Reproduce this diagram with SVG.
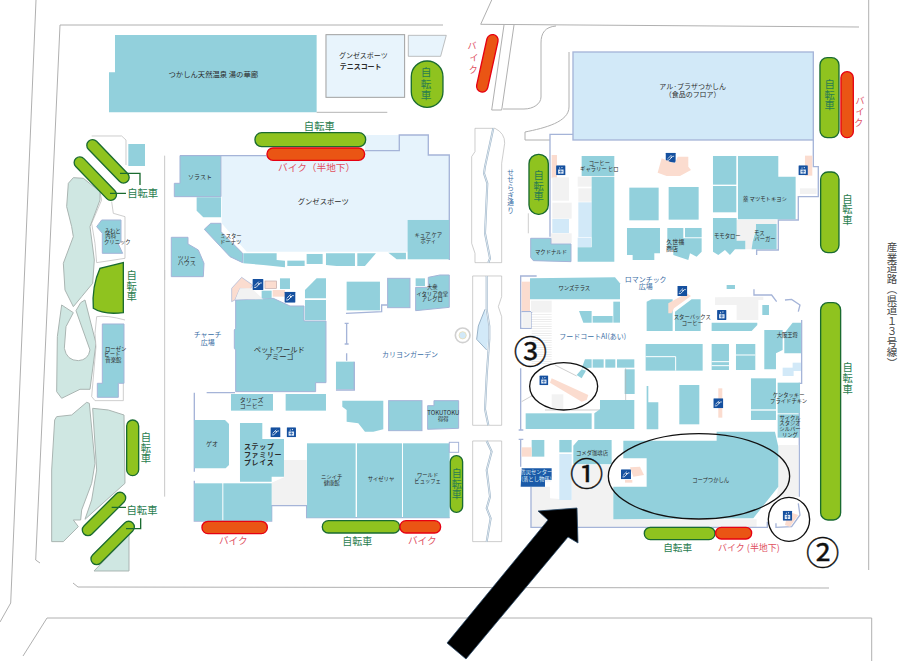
<svg xmlns="http://www.w3.org/2000/svg" xmlns:xlink="http://www.w3.org/1999/xlink" width="910" height="661" viewBox="0 0 910 661">
<defs>
<style>
text{font-family:"Noto Sans CJK JP","Liberation Sans",sans-serif;fill:#2b2b2b;text-anchor:middle}
.t{fill:#92d0dc;stroke:none}
.b{fill:#92d0dc;stroke:#a5b4d8;stroke-width:3}
.lb{fill:#d2e9f8;stroke:none}
.g{fill:#f2f2f2;stroke:none}
.p{fill:#fbdccf;stroke:none}
.o{fill:none;stroke:#a5b4d8;stroke-width:4}
.r{fill:none;stroke:#b5b5b5;stroke-width:3}
.w{fill:#fff;stroke:#b5b5b5;stroke-width:3}
.gd{fill:#cfe7e2;stroke:#aab5b2;stroke-width:3}
.pg{fill:#8fc31f;stroke:#1a6b30;stroke-width:4}
.pr{fill:#ea5514;stroke:#e60012;stroke-width:4}
.gt{fill:#2a7d4f}
.rt{fill:#e0505f}
.bt{fill:#3a6ea5}
.k{fill:none;stroke:#111;stroke-width:4}
.cn{fill:none;stroke:#1a6b30;stroke-width:4}
.s16{font-size:16px}.s18{font-size:18px}.s21{font-size:21px}.s30{font-size:31px}
.num{font-size:100px;fill:#111;stroke:#111;stroke-width:1.200}
</style>
<symbol id="esc" viewBox="0 0 33 33"><rect width="33" height="33" rx="2" fill="#15509f"/><path d="M5,25 L11,25 L23,12 L28,12 M7,20 L19,8" fill="none" stroke="#fff" stroke-width="2.5"/><circle cx="19" cy="15" r="2.5" fill="#fff"/></symbol>
<symbol id="elv" viewBox="0 0 29 31"><rect width="29" height="31" rx="2" fill="#15509f"/><rect x="6" y="13" width="17" height="13" fill="#dfeaf6"/><path d="M14.500,13 V26 M9,19 H20" stroke="#15509f" stroke-width="2"/><path d="M9,10 L11,5 L13,10 Z M16,5 L20,5 L18,10 Z" fill="#fff"/></symbol>
<pattern id="st" width="10" height="7" patternUnits="userSpaceOnUse"><rect width="10" height="7" fill="#fff"/><rect width="10" height="2" fill="#e3e3e3"/></pattern>
</defs>
<rect width="910" height="661" fill="#fff"/>

<g id="roads" fill="none" stroke="#b0b0b0" stroke-width="1">
<path d="M36,0 L10.700,603 L0,622"/>
<path d="M443,25 L60,25 L35.700,560 L40,563"/>
<path d="M73,583 L78,587 L829,588"/>
<path d="M23,656 L47,618 L871.700,618 L871.700,661"/>
<path d="M868.700,0 V570"/>
<path d="M491.700,0 L480.700,24.300 L859,27"/>
<path d="M504,25 L491.700,110 L501.700,110 L514,25"/>
<path d="M556,26 C545,27 541,33 541,43 L541,97 C541,104 533,109 524,109 L503,109"/>
<path d="M569,52 L569,107 C569,122 545,128 525,132 V140 H550"/>
</g>

<g id="left-garden" transform="translate(40 120) scale(.3333)">
<path class="w" style="stroke-width:2" d="M155,48 H245 L258,60 V135 M180,215 L185,240 L155,310 L165,370 L170,428 L255,415 V290 L220,280 L215,245"/>
<path class="gd" d="M100,173 L85,190 L80,260 L95,320 L100,350 L70,430 L75,510 L100,560 L125,530 L158,490 L163,420 L150,320 L180,240 L180,215 L130,175 Z"/>
<path class="gd" d="M65,555 L100,578 L78,620 L73,685 Q80,722 115,722 Q145,720 150,690 L108,572 L122,548 L135,540 L168,670 L150,808 L120,808 L65,835 L50,815 L52,650 Z"/>
<path class="w" style="stroke-width:2" d="M255,600 Q200,585 170,590 L165,640 L168,680 L155,830 L165,842 L250,842 V790"/>
<rect class="t" x="265" y="72" width="50" height="66"/>
<polygon class="b" points="185,300 243,300 243,365 235,372 248,400 187,400 187,340 170,320"/>
<polygon class="b" points="187,612 252,612 252,790 235,790 235,832 172,832 172,790 187,790"/>
<path class="pg" d="M250,428 L250,578 Q190,585 160,565 Q155,500 180,445 Z"/>
<rect class="pg" x="-84" y="-17" width="168" height="34" rx="17" transform="translate(204 124) rotate(46)"/>
<rect class="pg" x="-84" y="-17" width="168" height="34" rx="17" transform="translate(166 176) rotate(46)"/>
<path class="cn" d="M240,160 H300 V195 M210,220 H258"/>
<text class="gt s30" x="308" y="230">自転車</text>
<text class="gt s30" x="275"><tspan x="275" y="478">自</tspan><tspan x="275" y="510">転</tspan><tspan x="275" y="540">車</tspan></text>
<g class="s16"><text x="218" y="338">みわと</text><text x="212" y="354">内科</text><text x="232" y="372">クリニック</text>
<text x="227" y="692">ローゼン</text><text x="217" y="708">ビート</text><text x="220" y="727">音楽館</text></g>
</g>

<g id="lower-left" transform="translate(50 270) scale(.3333)">
<path class="gd" d="M14,450 L20,440 L65,435 L110,397 L118,400 L135,580 L125,640 L95,720 L92,750 L70,750 L85,770 L40,815 L5,815 L5,600 Z"/>
<path class="gd" d="M128,415 L175,420 L222,435 L225,640 L105,748 L125,690 L140,600 Z"/>
<path class="gd" d="M237,795 V903 H132 Z"/>
<line x1="344" y1="0" x2="344" y2="680" stroke="#c8c8c8" stroke-width="3"/>
<rect class="pg" x="230" y="450" width="36" height="167" rx="18"/>
<rect class="pg" x="-85" y="-17" width="170" height="34" rx="17" transform="translate(162 732) rotate(-45)"/>
<rect class="pg" x="-85" y="-17" width="170" height="34" rx="17" transform="translate(188 819) rotate(-45)"/>
<path class="cn" d="M185,712 H228 M228,776 H272 V745"/>
<text class="gt s30" x="276" y="732">自転車</text>
<text class="gt s30"><tspan x="288" y="513">自</tspan><tspan x="288" y="546">転</tspan><tspan x="288" y="577">車</tspan></text>
</g>

<g id="gunze" transform="translate(50 20) scale(.3333)">
<polygon class="t" points="195,45 800,45 800,277 177,277 177,157 195,157"/>
<path class="r" d="M800,277 H1012"/>
<rect x="828" y="44" width="236" height="188" fill="#e8f4fc" stroke="#a0a0a0" stroke-width="3"/>
<polygon points="1075,46 1189,46 1172,109 1075,109" fill="#e8f4fc" stroke="#a0a0a0" stroke-width="2"/>
<rect class="pg" x="1084" y="123" width="95" height="139" rx="47"/>
<text class="gt" style="font-size:32px"><tspan x="1128" y="168">自</tspan><tspan x="1128" y="203">転</tspan><tspan x="1128" y="237">車</tspan></text>
<text style="font-size:22px" x="490" y="172">つかしん天然温泉 湯の華廊</text>
<text class="s21" x="940" y="113">グンゼスポーツ</text>
<text class="s21" x="932" y="148" font-weight="bold">テニスコート</text>
<polygon points="515,407 945,407 945,345 1135,345 1135,405 1198,405 1198,695 590,695 515,610" fill="#e6f3fc"/>
<path class="o" d="M945,392 H1048 V345 H1135 V405 H1198 V720 M390,407 H650"/>
<polygon class="b" points="390,407 513,407 513,530 373,530 373,490 390,490"/>
<polygon class="t" points="440,532 513,532 513,592 460,592 440,572"/>
<polygon class="b" points="463,628 482,610 513,610 513,635 578,700 578,728 540,710"/>
<polygon class="t" points="580,700 680,700 680,720 705,722 705,742 640,735 580,730"/>
<rect class="t" x="712" y="722" width="52" height="16"/>
<rect class="t" x="770" y="702" width="48" height="30"/>
<polygon class="t" points="828,700 915,700 915,738 860,738 828,735"/>
<polygon class="t" points="922,700 978,700 945,738 922,738"/>
<polygon class="t" points="1015,698 1068,698 1068,718 1040,718"/>
<rect class="t" x="1073" y="600" width="125" height="118"/>
<polygon class="b" points="364,652 414,652 414,672 445,690 462,730 460,770 364,770"/>
<line x1="344" y1="407" x2="344" y2="780" stroke="#c8c8c8" stroke-width="3"/>
<rect class="pg" x="615" y="338" width="332" height="42" rx="20"/>
<rect class="pr" x="651" y="384" width="293" height="37" rx="18"/>
<text class="gt" style="font-size:31px" x="808" y="330">自転車</text>
<text class="rt" style="font-size:29px" x="800" y="453">バイク（半地下）</text>
<text class="s18" x="450" y="478">ソラスト</text>
<text style="font-size:22px" x="820" y="552">グンゼスポーツ</text>
<g class="s16"><text x="543" y="654">ミスター</text><text x="542" y="672">ドーナツ</text>
<text x="1135" y="650">キュア ケア</text><text x="1135" y="669">ボディ</text></g>
<text class="s18"><tspan x="410" y="719">ツリー</tspan><tspan x="410" y="736">ハウス</tspan></text>
</g>

<g id="center-west" transform="translate(50 270) scale(.3333)">
<polygon class="b" points="557,90 670,85 720,108 762,108 762,153 828,153 828,338 797,338 797,365 557,365 557,240 553,235 553,180 557,175"/>
<rect class="t" x="765" y="90" width="63" height="60"/>
<polygon class="t" points="765,60 800,25 828,25 828,85 765,85"/>
<polygon points="545,95 545,55 575,22 608,45 600,60 570,55 555,90" fill="#fbdccf" stroke="#a5b4d8" stroke-width="2"/>
<polygon class="g" points="570,55 605,55 640,88 557,88"/>
<rect class="t" x="635" y="62" width="30" height="23"/>
<rect x="645" y="33" width="35" height="22" fill="#fbdccf" stroke="#c0a8a8" stroke-width="2"/>
<rect class="p" x="668" y="60" width="37" height="20"/>
<rect class="t" x="690" y="25" width="30" height="32"/>
<use xlink:href="#esc" href="#esc" x="607" y="27" width="34" height="33"/>
<use xlink:href="#esc" href="#esc" x="703" y="65" width="34" height="33"/>
<path class="o" d="M470,368 H555 M433,368 V605 M433,632 V753 H665 V707 H770 V743 H1199"/>
<rect class="t" x="543" y="372" width="126" height="50"/>
<rect class="t" x="707" y="372" width="121" height="50"/>
<polygon class="t" points="433,450 525,450 537,462 537,585 527,595 433,595"/>
<polygon class="t" points="570,459 637,459 637,507 702,507 702,620 665,620 665,635 570,635"/>
<use xlink:href="#esc" href="#esc" x="661" y="472" width="31" height="30"/>
<use xlink:href="#elv" href="#elv" x="710" y="472" width="28" height="30"/>
<polygon class="g" points="702,570 770,570 770,705 665,705 665,638 702,622"/>
<rect class="t" x="433" y="640" width="84" height="113"/>
<rect class="t" x="520" y="640" width="145" height="113"/>
<rect class="t" x="771" y="520" width="146" height="223"/>
<rect class="t" x="921" y="520" width="135" height="223"/>
<rect class="t" x="1059" y="520" width="140" height="223"/>
<rect x="1198" y="517" width="28" height="30" fill="#fff" stroke="#a5b4d8" stroke-width="3"/>
<rect class="pg" x="1201" y="557" width="37" height="170" rx="18"/>
<rect class="pr" x="456" y="754" width="196" height="37" rx="18"/>
<rect class="pg" x="817" y="752" width="232" height="37" rx="18"/>
<rect class="pr" x="1050" y="752" width="122" height="37" rx="18"/>
<text class="gt" style="font-size:30px"><tspan x="1220" y="622">自</tspan><tspan x="1220" y="653">転</tspan><tspan x="1220" y="685">車</tspan></text>
<text class="rt" style="font-size:29px" x="550" y="822">バイク</text>
<text class="gt" style="font-size:30px" x="922" y="826">自転車</text>
<text class="rt" style="font-size:29px" x="1117" y="822">バイク</text>
<text class="bt s21"><tspan x="473" y="201">チャーチ</tspan><tspan x="473" y="224">広場</tspan></text>
<text style="font-size:22px"><tspan x="688" y="246">ペットワールド</tspan><tspan x="688" y="268">アミーゴ</tspan></text>
<text class="s18"><tspan x="605" y="396">タリーズ</tspan><tspan x="605" y="413">コーヒー</tspan></text>
<text class="s18" x="486" y="529">ゲオ</text>
<text class="s21" font-weight="bold" style="text-anchor:start"><tspan x="582" y="538" letter-spacing="2">ステップ</tspan><tspan x="582" y="562" letter-spacing="2">ファミリー</tspan><tspan x="582" y="585" letter-spacing="2">プレイス</tspan></text>
<g class="s16"><text x="845" y="627">ニシイチ</text><text x="845" y="646">健康館</text><text x="993" y="634">サイゼリヤ</text><text x="1133" y="622">ワールド</text><text x="1133" y="640">ビュッフェ</text></g>
<rect class="t" x="890" y="35" width="100" height="86"/>
<path class="o" d="M888,130 L995,125 V105 H1012 M890,160 V222 M884,160 H896 M884,222 H896 M890,250 V272"/>
<rect class="b" x="1013" y="25" width="67" height="88"/>
<rect class="t" x="1097" y="25" width="28" height="23"/>
<polygon class="b" points="1097,52 1135,52 1135,22 1170,15 1198,15 1198,112 1097,122"/>
<rect class="t" x="858" y="275" width="55" height="83"/>
<path class="o" d="M913,275 V360 H858"/>
<polygon class="t" points="877,392 1000,392 1000,478 970,485 945,485 925,460 890,455 890,420 877,410"/>
<rect class="b" x="1016" y="392" width="100" height="90"/>
<polygon class="b" points="1133,407 1152,407 1152,392 1226,392 1226,475 1133,478"/>
<g class="s16"><text x="1147" y="58">大衆</text><text x="1147" y="77">イタリア食堂</text><text x="1147" y="94">アレグロ</text></g>
<text class="bt s21" x="1080" y="260">カリヨンガーデン</text>
<text class="s18" x="1180" y="434">TOKUTOKU</text>
<text class="s16" x="1180" y="452">得得</text>
</g>

<g id="seseragi" transform="translate(470 20) scale(.3333)">
<circle cx="-22" cy="946" r="22" fill="#fff" stroke="#d0d0d0" stroke-width="5"/>
<circle cx="-22" cy="946" r="11" fill="#d2e9f8" stroke="#e8d9a8" stroke-width="2"/>
<path class="r" style="stroke-width:2" d="M15,325 H75 Q105,340 104,370 L95,430 V728 H15 V700 L5,670 V410 L15,395 Z"/>
<path fill="none" stroke="#9ab3c8" stroke-width="6" d="M70,325 L45,440 L42,460 L52,490 L45,640 L60,715 L55,728"/>
<path fill="none" stroke="#fff" stroke-width="2" d="M70,325 L45,440 L42,460 L52,490 L45,640 L60,715 L55,728"/>
<path class="r" style="stroke-width:2" d="M8,768 H95 V830 L85,860 L95,890 V1216 H8 Z"/>
<path class="lb" d="M45,868 L25,918 L20,958 L50,990 L55,958 L55,918 Z"/>
<path fill="none" stroke="#9ab3c8" stroke-width="6" d="M50,768 V868 L58,918 V958 L55,998 L50,1068 L45,1168 L55,1216"/>
<path fill="none" stroke="#fff" stroke-width="2" d="M50,768 V868 L58,918 V958 L55,998 L50,1068 L45,1168 L55,1216"/>
<path fill="none" stroke="#9ab3c8" stroke-width="3" d="M45,868 L25,918 L20,958 L50,990"/>
<path class="r" style="stroke-width:2" d="M8,1263 H95 V1565 H8 Z"/>
<path fill="none" stroke="#9ab3c8" stroke-width="6" d="M50,1263 L65,1295 L50,1350 L60,1430 L50,1465 L62,1495 L50,1565"/>
<path fill="none" stroke="#fff" stroke-width="2" d="M50,1263 L65,1295 L50,1350 L60,1430 L50,1465 L62,1495 L50,1565"/>
<rect class="pg" x="177" y="403" width="58" height="180" rx="28"/>
<text class="gt" style="font-size:31px"><tspan x="206" y="476">自</tspan><tspan x="206" y="509">転</tspan><tspan x="206" y="541">車</tspan></text>
<text class="bt" style="font-size:20px"><tspan x="122" y="464">せ</tspan><tspan x="122" y="487">せ</tspan><tspan x="122" y="510">ら</tspan><tspan x="122" y="533">ぎ</tspan><tspan x="122" y="556">通</tspan><tspan x="122" y="580">り</tspan></text>
<rect class="pr" x="-17" y="-88" width="34" height="176" rx="17" transform="translate(52 130) rotate(12.500)"/>
<text class="rt" style="font-size:27px"><tspan x="6" y="88">バ</tspan><tspan x="12" y="122">イ</tspan><tspan x="10" y="158">ク</tspan></text>
</g>

<g id="plaza" transform="translate(470 20) scale(.3333)">
<path class="r" style="stroke-width:2" d="M175,580 V640"/>
<rect x="309" y="96" width="721" height="264" fill="#d2e9f8" stroke="#a5b4d8" stroke-width="4"/>
<text class="s21"><tspan x="668" y="207">アル·プラザつかしん</tspan><tspan x="668" y="230">（食品のフロア）</tspan></text>
<rect class="pg" x="1050" y="113" width="57" height="240" rx="22"/>
<rect class="pr" x="1113" y="155" width="37" height="198" rx="18"/>
<text class="gt s30"><tspan x="1079" y="203">自</tspan><tspan x="1079" y="236">転</tspan><tspan x="1079" y="268">車</tspan></text>
<text class="rt" style="font-size:27px"><tspan x="1170" y="253">バ</tspan><tspan x="1170" y="285">イ</tspan><tspan x="1166" y="318">ク</tspan></text>
<rect class="pg" x="1052" y="456" width="55" height="242" rx="22"/>
<text class="gt s30"><tspan x="1132" y="548">自</tspan><tspan x="1132" y="580">転</tspan><tspan x="1132" y="612">車</tspan></text>
<path class="o" d="M309,343 H240 V650 M1030,360 V440 H1045 V530 H985 V600 H925 V690 H860 V705"/>
<rect class="p" x="245" y="405" width="16" height="70"/>
<rect class="p" x="1005" y="407" width="22" height="60"/>
<use xlink:href="#elv" href="#elv" x="258" y="436" width="29" height="30"/>
<use xlink:href="#elv" href="#elv" x="985" y="436" width="29" height="30"/>
<rect class="g" x="247" y="472" width="50" height="70"/>
<rect class="g" x="247" y="548" width="58" height="48"/>
<rect class="lb" x="247" y="597" width="50" height="42"/>
<rect class="g" x="243" y="640" width="62" height="30"/>
<rect class="g" x="323" y="470" width="42" height="30"/>
<rect class="g" x="325" y="505" width="40" height="40"/>
<rect class="lb" x="325" y="547" width="40" height="104"/>
<rect class="lb" x="323" y="653" width="40" height="28"/>
<polygon class="t" points="365,470 433,470 433,725 323,725 323,682 365,682"/>
<rect class="t" x="335" y="408" width="98" height="60"/>
<polygon class="b" points="182,655 243,655 243,672 303,672 303,725 190,722 182,712"/>
<use xlink:href="#esc" href="#esc" x="586" y="398" width="32" height="30"/>
<polygon class="p" points="563,458 575,415 600,425 615,430 623,410 655,410 655,440 663,450 630,468 590,468"/>
<rect class="t" x="478" y="503" width="88" height="98"/>
<rect class="t" x="596" y="501" width="90" height="98"/>
<polygon class="t" points="471,624 570,624 570,700 553,700 553,720 488,720 488,705 471,705"/>
<polygon class="t" points="592,624 640,624 640,655 695,655 695,695 680,710 660,700 655,720 610,705 610,690 592,690"/>
<rect class="t" x="645" y="624" width="50" height="28"/>
<rect class="t" x="729" y="408" width="70" height="86"/>
<rect class="t" x="729" y="498" width="70" height="79"/>
<polygon class="t" points="804,408 925,408 925,470 977,470 977,598 804,598"/>
<polygon class="g" points="800,600 920,600 920,612 858,612 858,630 848,660 848,688 826,688 826,662 800,662"/>
<polygon class="t" points="729,594 800,594 800,662 826,662 826,688 795,688 780,705 765,690 745,705 729,695"/>
<polygon class="t" points="858,612 920,612 920,688 845,688 848,665 858,630"/>
<rect class="g" x="990" y="505" width="50" height="17"/>
<g class="s16"><text x="388" y="435">コーヒー</text><text x="388" y="453">ギャラリー ヒロ</text>
<text x="243" y="701">マクドナルド</text>
<text x="885" y="542">薬 マツモトキヨシ</text>
<text x="772" y="654">モモタロー</text>
<text x="868" y="645">モス</text><text x="885" y="663">バーガー</text></g>
<text class="s18"><tspan x="616" y="671">久世福</tspan><tspan x="606" y="692">商店</tspan></text>
</g>

<g id="foodcourt" transform="translate(470 270) scale(.3333)">
<path class="o" d="M200,18 H152 V175 H185 V125 H155 M152,295 V480 M146,480 H160 M152,508 V590 M146,508 H160 M995,150 V340 H988 V680"/>
<rect class="p" x="155" y="35" width="25" height="88"/>
<rect class="g" x="157" y="128" width="26" height="45"/>
<polygon class="t" points="180,25 435,22 450,40 450,88 180,88"/>
<rect class="g" x="183" y="92" width="62" height="34"/>
<rect x="185" y="128" width="60" height="157" fill="url(#st)"/>
<polygon class="t" points="327,123 365,123 365,158 340,158"/>
<rect class="t" x="368" y="138" width="60" height="20"/>
<rect class="t" x="430" y="95" width="20" height="63"/>
<polygon class="t" points="335,295 345,268 365,268 365,293"/>
<rect class="t" x="368" y="268" width="33" height="25"/>
<rect class="t" x="406" y="268" width="30" height="25"/>
<rect class="t" x="441" y="268" width="52" height="25"/>
<rect class="t" x="464" y="298" width="30" height="74"/>
<path class="r" style="stroke-width:2" d="M255,285 L320,318 M467,295 V400 H390 M155,395 L190,375 M225,420 H390"/>
<polygon class="t" points="320,315 335,298 348,302 335,325"/>
<polygon class="p" points="245,325 355,375 350,390 335,395 240,338"/>
<rect class="g" x="245" y="373" width="35" height="47"/>
<use xlink:href="#elv" href="#elv" x="208" y="316" width="27" height="30"/>
<rect class="t" x="167" y="430" width="198" height="47"/>
<polygon class="t" points="390,390 493,390 493,477 373,477 373,430 390,418"/>
<ellipse class="k" cx="281" cy="349" rx="102" ry="71"/>
<polygon class="t" points="530,95 545,88 608,88 608,183 530,183"/>
<polygon class="t" points="615,125 665,88 692,88 692,183 615,183"/>
<polygon class="p" points="595,100 650,70 663,78 612,115 605,130 595,130"/>
<use xlink:href="#esc" href="#esc" x="622" y="48" width="30" height="30"/>
<polygon class="g" points="735,82 880,80 880,90 865,90 865,150 800,150 800,105 735,105"/>
<use xlink:href="#elv" href="#elv" x="741" y="120" width="29" height="30"/>
<polygon class="t" points="725,158 862,158 862,165 845,183 725,183"/>
<rect class="t" x="527" y="222" width="171" height="80"/>
<path d="M527,260 H617 V302" fill="none" stroke="#fff" stroke-width="3"/>
<rect class="t" x="725" y="222" width="52" height="78"/>
<path d="M725,275 H777 M725,287 H777" stroke="#fff" stroke-width="3"/>
<rect class="t" x="798" y="222" width="58" height="78"/>
<path d="M798,255 H856" stroke="#fff" stroke-width="3"/>
<rect class="t" x="843" y="325" width="75" height="93"/>
<rect class="t" x="843" y="422" width="75" height="28"/>
<rect class="t" x="923" y="338" width="67" height="92"/>
<rect class="t" x="923" y="433" width="65" height="70"/>
<polygon class="t" points="883,180 938,180 938,240 918,250 918,298 883,298"/>
<polygon class="t" points="943,190 968,158 993,158 993,250 943,250"/>
<rect class="lb" x="938" y="293" width="33" height="25"/>
<rect class="lb" x="968" y="278" width="25" height="25"/>
<rect class="t" x="877" y="105" width="20" height="30"/>
<rect class="t" x="770" y="45" width="25" height="12"/>
<path class="o" d="M852,58 V75 H905 L920,95 M945,90 L965,88 L990,105 L985,125"/>
<rect class="t" x="628" y="345" width="60" height="118"/>
<rect class="p" x="745" y="355" width="12" height="88"/>
<use xlink:href="#esc" href="#esc" x="730" y="385" width="30" height="30"/>
<polygon class="t" points="530,348 535,348 535,397 565,397 565,478 530,478"/>
<polygon class="g" points="183,650 240,650 240,685 305,690 305,585 418,585 418,650 430,650 430,748 860,748 860,770 183,770"/>
<polygon class="g" points="925,525 985,525 985,680 920,680 925,650"/>
<polygon class="t" points="460,512 740,512 740,485 915,485 925,530 925,650 850,745 430,748 430,650 530,650 530,565 460,565"/>
<polygon class="p" points="480,592 510,590 522,615 490,620"/>
<rect class="p" x="465" y="630" width="22" height="8"/>
<use xlink:href="#esc" href="#esc" x="453" y="598" width="30" height="30"/>
<path class="o" d="M183,650 V772 H892 V755 M985,700 L990,735 L965,770 L918,772 V760"/>
<polygon class="t" points="310,527 325,510 425,510 425,583 310,583"/>
<rect class="t" x="268" y="510" width="37" height="37"/>
<rect class="lb" x="268" y="552" width="37" height="138"/>
<rect class="t" x="185" y="510" width="38" height="50"/>
<rect class="p" x="155" y="532" width="30" height="28"/>
<polygon points="155,595 245,595 245,630 225,630 225,650 152,650" fill="#1a5aa8"/>
<ellipse class="k" cx="687" cy="619" rx="272" ry="128"/>
<polygon class="p" points="985,735 960,770 945,765 950,745 965,728"/>
<use xlink:href="#elv" href="#elv" x="938" y="722" width="29" height="30"/>
<ellipse class="k" cx="957" cy="748" rx="62" ry="66"/>
<rect class="pg" x="1052" y="98" width="60" height="652" rx="22"/>
<rect class="pg" x="523" y="772" width="212" height="37" rx="18"/>
<rect class="pr" x="737" y="772" width="108" height="35" rx="17"/>
<text class="gt s30"><tspan x="1133" y="303">自</tspan><tspan x="1133" y="335">転</tspan><tspan x="1133" y="368">車</tspan></text>
<text class="gt" style="font-size:29px" x="623" y="844">自転車</text>
<text class="rt" style="font-size:27px" x="837" y="844">バイク (半地下)</text>
<text class="bt s21"><tspan x="527" y="36">ロマンチック</tspan><tspan x="527" y="58">広場</tspan></text>
<text class="bt s21" x="368" y="207">フードコートAI(あい)</text>
<g class="s16"><text x="313" y="60">ワンズテラス</text>
<text x="667" y="146">スターバックス</text><text x="667" y="165">コーヒー</text>
<text x="952" y="201">大阪王将</text>
<text x="956" y="381">ケンタッキー</text><text x="956" y="400">フライドチキン</text>
<text x="960" y="449">サイクル</text><text x="960" y="466">スタジオ</text><text x="960" y="484">シルバー</text><text x="960" y="501">リング</text>
<text x="366" y="556">コメダ珈琲店</text>
<text x="722" y="636">コープつかしん</text>
<text x="199" y="612" style="fill:#dceaf7">防災センター</text><text x="199" y="632" style="fill:#dceaf7">(落とし物係)</text></g>
<text class="num" x="181" y="283">③</text>
<text class="num" x="350" y="648">①</text>
<text class="num" x="1058" y="886">②</text>
</g>

<text x="892" y="242" style="font-size:10.500px;writing-mode:vertical-rl;text-anchor:start;fill:#444">産業道路（県道１３号線）</text>

<polygon id="arrow" points="577,508 538,511 548,520 447,643 466,659 568,537 578,543" fill="#000" stroke="#2a4a6a" stroke-width=".8"/>
</svg>
